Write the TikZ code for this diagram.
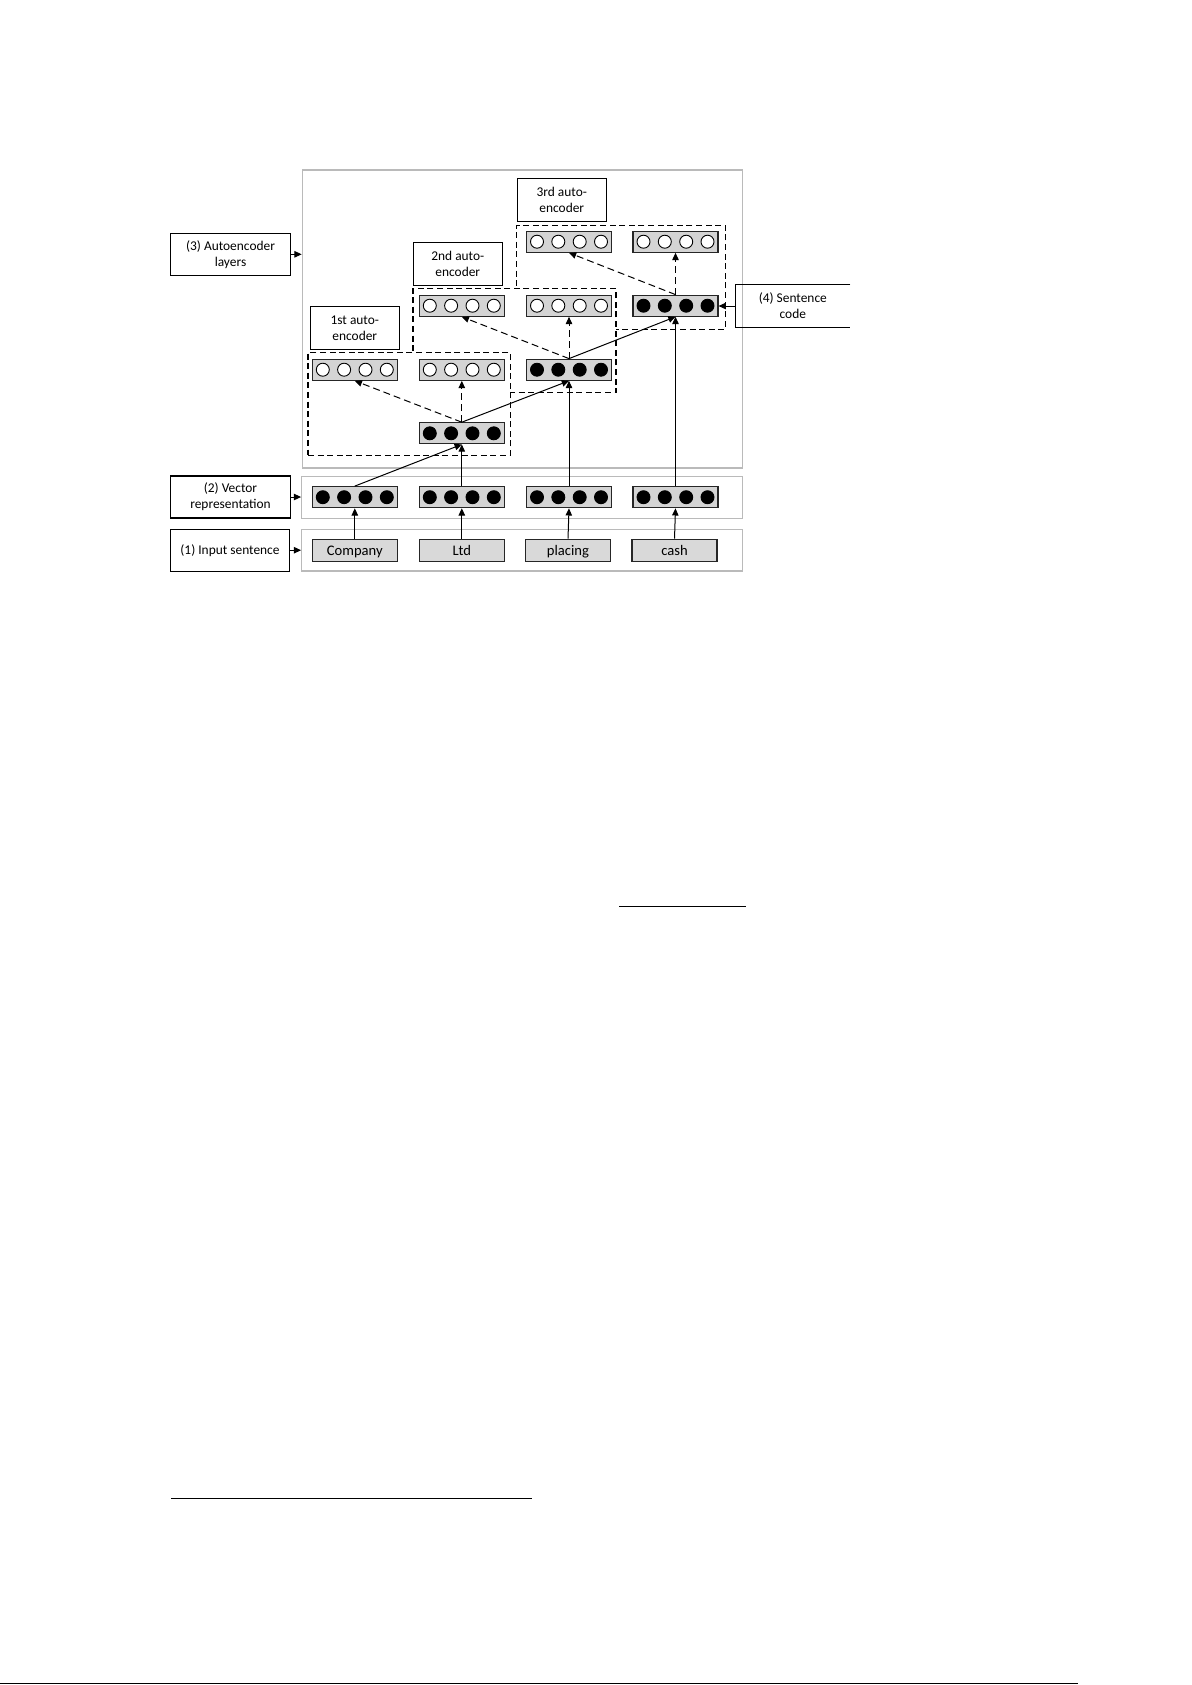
\documentclass[tikz,border=0pt]{standalone}
\usepackage{fontspec}
\setmainfont{Carlito}
\usetikzlibrary{arrows.meta}
\newcommand{\figlblfont}{\fontsize{6.7bp}{8bp}\selectfont}
\newcommand{\figwordfont}{\fontsize{7.3bp}{8bp}\selectfont}
\newcommand{\vecbox}[4]{%
  \node[vecbox] (#1) at (#2,#3) {};
  \foreach \dx in {-16bp,-5.35bp,5.35bp,16bp}
    \draw[circ,fill=#4] ([xshift=\dx]#1.center) circle[radius=3.25bp];
}
\tikzset{
  vecbox/.style={draw=black!85, line width=0.6bp, fill=black!17,
    minimum width=42.5bp, minimum height=10.5bp, inner sep=0pt},
  circ/.style={draw=black, line width=0.45bp},
  wordbox/.style={draw=black!85, line width=0.6bp, fill=black!15,
    minimum width=42.5bp, minimum height=11bp, inner sep=0pt, font=\figwordfont,
    text height=6.1bp, text depth=0.9bp},
  lbl/.style={draw, line width=0.55bp, minimum width=59.8bp, minimum height=21bp,
    inner sep=0pt, align=center, font=\figlblfont},
  aelbl/.style={lbl, minimum width=44.5bp, minimum height=21.5bp},
  framebox/.style={draw=black!27, line width=0.6bp, inner sep=0pt},
  aebox/.style={draw=black, line width=0.6bp, dash pattern=on 3bp off 1.8bp,
    fill=white, inner sep=0pt},
  arr/.style={-{Triangle[length=3.6bp,width=3.2bp]}, line width=0.5bp},
  darr/.style={arr, dash pattern=on 3.5bp off 2bp},
}
\begin{document}
\begin{tikzpicture}[x=0.5bp,y=-0.5bp]
\useasboundingbox (0,0) rectangle (1192,1685);
\fill[white] (0,0) rectangle (1192,1685);

% gray frames
\node[framebox, minimum width=220bp, minimum height=149bp] (f3) at (522.3,319) {};
\node[framebox, minimum width=220.3bp, minimum height=20.8bp] (f2) at (522,497.5) {};
\node[framebox, minimum width=220.3bp, minimum height=20.85bp] (f1) at (522,550.2) {};

% dashed autoencoder boxes (drawn back to front)
\node[aebox, minimum width=104.3bp, minimum height=52bp] (a3) at (621,277.3) {};
\node[aebox, minimum width=101.5bp, minimum height=52bp] (a2) at (514.5,340.7) {};
\node[aebox, minimum width=101.15bp, minimum height=51.5bp] (a1) at (409.15,403.8) {};

% labels
\node[lbl] (l3) at (230.5,254.3) {(3) Autoencoder\\layers};
\node[lbl] (l2) at (230.5,497) {(2) Vector\\representation};
\node[lbl, minimum width=59.3bp, minimum height=20.85bp] (l1) at (230,550.2) {(1) Input sentence};
\node[lbl, draw=none, minimum width=57.1bp] (l4) at (792.8,306) {(4) Sentence\\code};
\draw[line width=0.55bp] (l4.north east) -- (l4.north west) -- (l4.south west) -- (l4.south east);
\node[aelbl] (t1) at (354.8,327.8) {1st auto-\\encoder};
\node[aelbl] (t2) at (457.8,263.8) {2nd auto-\\encoder};
\node[aelbl] (t3) at (561.8,200) {3rd auto-\\encoder};

% words
\node[wordbox] (w1) at (354.8,550.3) {Company};
\node[wordbox] (w2) at (461.8,550.3) {Ltd};
\node[wordbox] (w3) at (568,550.3) {placing};
\node[wordbox] (w4) at (674.5,550.3) {cash};

% vectors
\vecbox{v1}{354.8}{497.2}{black}
\vecbox{v2}{461.8}{497.2}{black}
\vecbox{v3}{569}{497.2}{black}
\vecbox{v4}{675.5}{497.2}{black}
\vecbox{h1}{461.8}{433.3}{black}
\vecbox{o11}{354.8}{369.7}{white}
\vecbox{o12}{461.8}{369.7}{white}
\vecbox{h2}{569}{369.7}{black}
\vecbox{o21}{461.8}{305.7}{white}
\vecbox{o22}{569}{305.7}{white}
\vecbox{h3}{675.5}{305.7}{black}
\vecbox{o31}{569}{241.7}{white}
\vecbox{o32}{675.5}{241.7}{white}

% label arrows
\draw[arr] (l3.east) -- (l3.east -| f3.west);
\draw[arr] (l2.east) -- (l2.east -| f2.west);
\draw[arr] (l1.east) -- (l1.east -| f1.west);
\draw[arr] (l4.west) -- (l4.west -| h3.east);

% word -> vector
\draw[arr] (w1.north) -- (v1.south);
\draw[arr] (w2.north) -- (v2.south);
\draw[arr] (w3.north) -- (v3.south);
\draw[arr] (w4.north) -- (v4.south);

% encoders
\draw[arr] (v1.north) -- (h1.south);
\draw[arr] (v2.north) -- (h1.south);
\draw[arr] (h1.north) -- (h2.south);
\draw[arr] (v3.north) -- (h2.south);
\draw[arr] (h2.north) -- (h3.south);
\draw[arr] (v4.north) -- (h3.south);

% decoders
\draw[darr] (h1.north) -- (o11.south);
\draw[darr] (h1.north) -- (o12.south);
\draw[darr] (h2.north) -- (o21.south);
\draw[darr] (h2.north) -- (o22.south);
\draw[darr] (h3.north) -- (o31.south);
\draw[darr] (h3.north) -- (o32.south);

% page rules
\draw[line width=0.5bp] (619,906) -- (745.7,906);
\draw[line width=0.65bp] (171,1498.3) -- (532,1498.3);
\draw[line width=0.85bp] (0,1683.5) -- (1077.7,1683.5);
\end{tikzpicture}
\end{document}
